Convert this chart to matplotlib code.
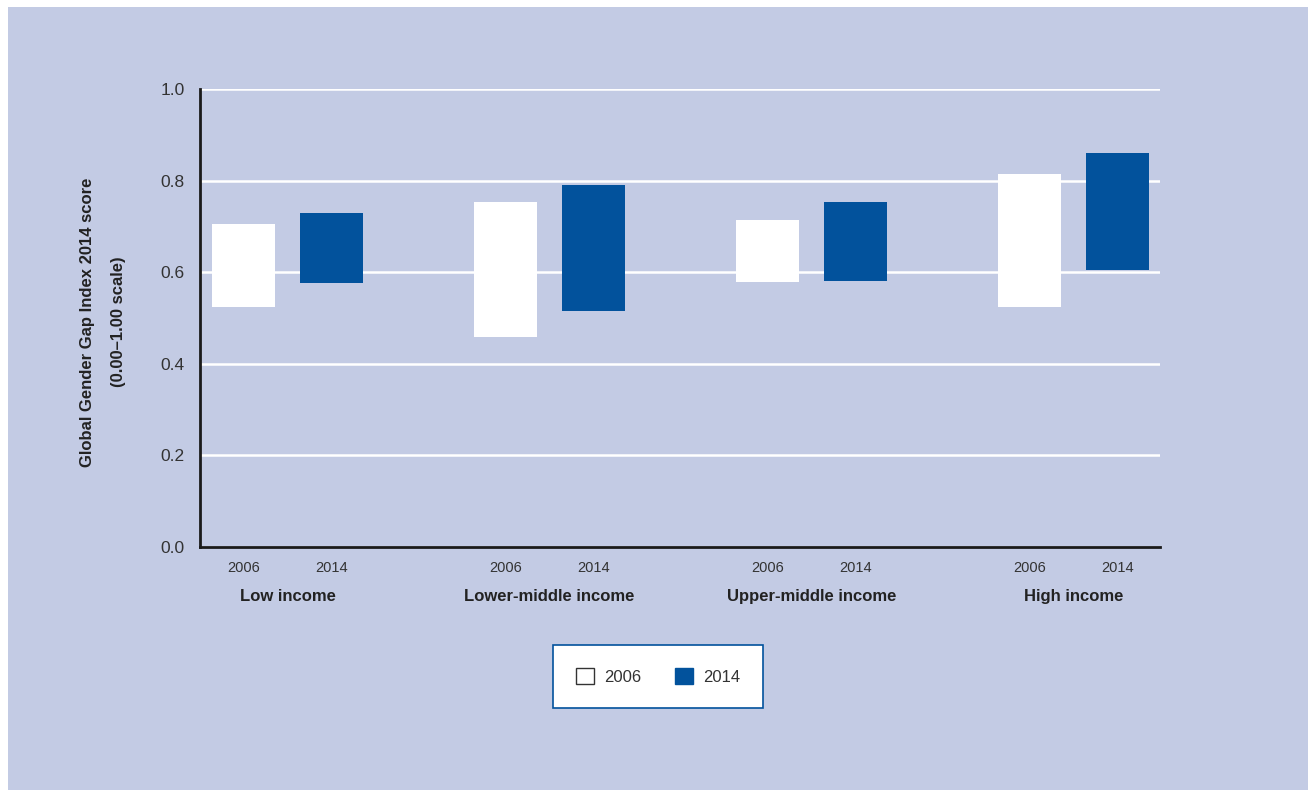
import matplotlib
matplotlib.use("Agg")
import matplotlib.pyplot as plt
from matplotlib.patches import Patch, Rectangle
import numpy as np

categories = ["Low income", "Lower-middle income", "Upper-middle income", "High income"]
years = ["2006", "2014"]
low_2006 = [0.524, 0.459, 0.579, 0.524]
high_2006 = [0.705, 0.753, 0.714, 0.814]
low_2014 = [0.576, 0.515, 0.581, 0.605]
high_2014 = [0.729, 0.790, 0.753, 0.860]
yticks = [0.0, 0.2, 0.4, 0.6, 0.8, 1.0]

BG = "#c3cbe4"
BLUE = "#02529c"
TXT = "#333333"
FONT = ["Liberation Sans Narrow", "Liberation Sans", "DejaVu Sans"]
plt.rcParams["font.family"] = FONT

fig = plt.figure(figsize=(13.09, 7.90), dpi=100)
fig.patch.set_facecolor("white")
fig.patches.append(Rectangle((8 / 1309, 0), 1 - 9 / 1309, 1 - 7 / 790,
                             transform=fig.transFigure, facecolor=BG,
                             edgecolor="none", zorder=-10))

ax = fig.add_axes([200 / 1309, 1 - 547 / 790, 960 / 1309, 458 / 790])
ax.set_facecolor("none")

x = np.arange(len(categories))
off = 0.168
w = 0.24
ax.bar(x - off, np.array(high_2006) - np.array(low_2006), bottom=low_2006,
       width=w, color="white", zorder=3)
ax.bar(x + off, np.array(high_2014) - np.array(low_2014), bottom=low_2014,
       width=w, color=BLUE, zorder=3)

ax.set_xlim(-0.334, 3.330)
ax.set_ylim(0, 1.0)
ax.set_yticks(yticks)
ax.set_yticklabels([f"{t:.1f}" for t in yticks], fontsize=12.5, color=TXT)
ax.yaxis.grid(True, color="white", linewidth=1.8, zorder=1)
ax.set_axisbelow(True)
ax.tick_params(axis="y", length=0, pad=11)

pos = np.concatenate([x - off, x + off])
labs = [years[0]] * len(x) + [years[1]] * len(x)
ax.set_xticks(pos)
ax.set_xticklabels(labs, fontsize=10.5, color=TXT)
ax.tick_params(axis="x", length=0, pad=10)

for s in ["top", "right"]:
    ax.spines[s].set_visible(False)
for s in ["left", "bottom"]:
    ax.spines[s].set_color("#1a1a1a")
    ax.spines[s].set_linewidth(2)
    ax.spines[s].set_zorder(5)

for i, c in enumerate(categories):
    ax.text(x[i], -0.107, c, transform=ax.get_xaxis_transform(),
            ha="center", va="center", fontsize=12, fontweight="bold", color="#222222")

fig.text(88 / 1309, 1 - 322 / 790, "Global Gender Gap Index 2014 score",
         rotation=90, ha="center", va="center", fontsize=12, fontweight="bold", color="#222222")
fig.text(118 / 1309, 1 - 322 / 790, "(0.00\u20131.00 scale)",
         rotation=90, ha="center", va="center", fontsize=12, fontweight="bold", color="#222222")

handles = [Patch(facecolor="white", edgecolor="#333333", linewidth=1),
           Patch(facecolor=BLUE, edgecolor=BLUE)]
leg = fig.legend(handles, years, loc="center", ncol=2,
                 bbox_to_anchor=(658 / 1309, 1 - 676.5 / 790),
                 frameon=True, fancybox=False, framealpha=1, fontsize=12,
                 handlelength=1.1, handleheight=1.1, handletextpad=0.6,
                 columnspacing=2.0, borderpad=1.4, borderaxespad=0)
leg.get_frame().set_edgecolor(BLUE)
leg.get_frame().set_linewidth(1.2)
leg.get_frame().set_facecolor("white")
for t in leg.get_texts():
    t.set_color(TXT)

fig.savefig("out.png", dpi=100, facecolor=fig.get_facecolor())
